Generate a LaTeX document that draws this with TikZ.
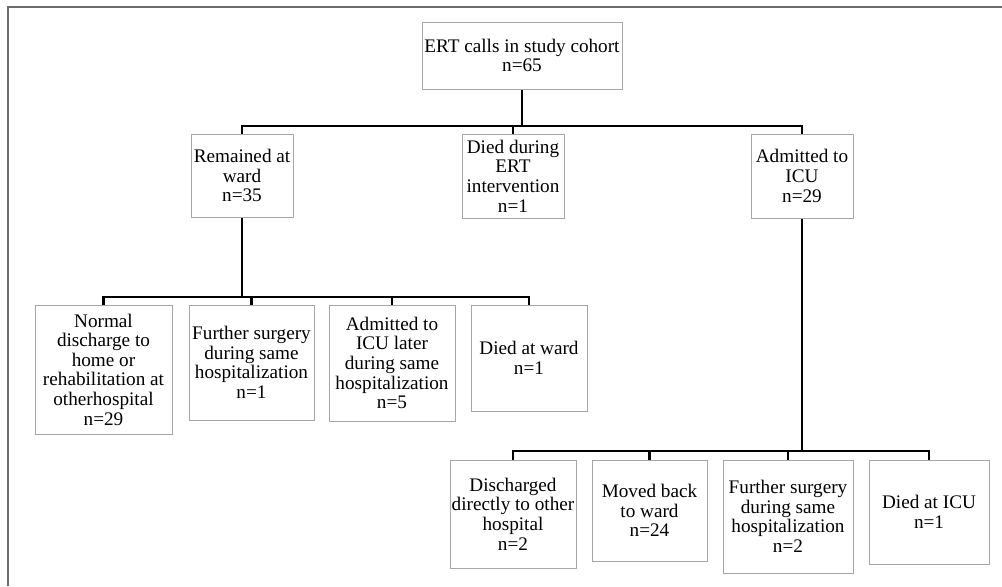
\documentclass[tikz,border=0pt]{standalone}
\usepackage{fontspec}
\setmainfont{Liberation Serif}
\usetikzlibrary{calc}
\tikzset{
  box/.style 2 args={draw=black!35, line width=0.75pt, align=center, inner sep=1pt,
    minimum width=#1*0.75pt, minimum height=#2*0.75pt,
    font=\fontsize{14.4}{14.7}\selectfont},
  link/.style={draw=black, line width=2.1pt},
  frame/.style={draw=black!58, line width=1.6pt}
}
\begin{document}
\begin{tikzpicture}[x=0.75pt, y=-0.75pt]
    \useasboundingbox (0,0) rectangle (1002,586);
    \draw[frame] (8,586) -- (8,7) -- (1002,7);

    % top level
    \node[box={200}{67}] (cohort) at (522,55.5) {ERT calls in study cohort\\n=65};
    \node[box={102}{83}] (ward) at (242,175.5) {Remained at\\ward\\n=35};
    \node[box={102}{84}] (died) at (513,176) {Died during\\ERT\\intervention\\n=1};
    \node[box={102}{84}] (icu) at (802,176) {Admitted to\\ICU\\n=29};

    % remained at ward
    \node[box={137}{129}] (normal) at (103.5,369.5) {Normal\\discharge to\\home or\\rehabilitation at\\otherhospital\\n=29};
    \node[box={125}{115}] (surgery) at (251.5,362.5) {Further surgery\\during same\\hospitalization\\n=1};
    \node[box={126}{116}] (later) at (392,363) {Admitted to\\ICU later\\during same\\hospitalization\\n=5};
    \node[box={116}{106}] (diedward) at (529,358) {Died at ward\\n=1};

    % admitted to ICU
    \node[box={126}{108}] (discharged) at (513,514) {Discharged\\directly to other\\hospital\\n=2};
    \node[box={115}{101}] (moved) at (649.5,510.5) {Moved back\\to ward\\n=24};
    \node[box={130}{113}] (further) at (788,516.5) {Further surgery\\during same\\hospitalization\\n=2};
    \node[box={120}{104}] (diedicu) at (929,512) {Died at ICU\\n=1};

    % connectors
    \coordinate (bus1) at (522,126);
    \coordinate (bus2) at (242,297);
    \coordinate (bus3) at (802,451);
    \draw[link] (cohort.south) -- (bus1);
    \draw[link] (ward.north) -- (ward.north |- bus1) -| (icu.north);
    \draw[link] (died.north) -- (died.north |- bus1);
    \draw[link] (ward.south) -- (bus2);
    \draw[link] (normal.north) -- (normal.north |- bus2) -| (diedward.north);
    \foreach \n in {surgery,later}
      \draw[link] (\n.north) -- (\n.north |- bus2);
    \draw[link] (icu.south) -- (bus3);
    \draw[link] (discharged.north) -- (discharged.north |- bus3) -| (diedicu.north);
    \foreach \n in {moved,further}
      \draw[link] (\n.north) -- (\n.north |- bus3);
\end{tikzpicture}
\end{document}
